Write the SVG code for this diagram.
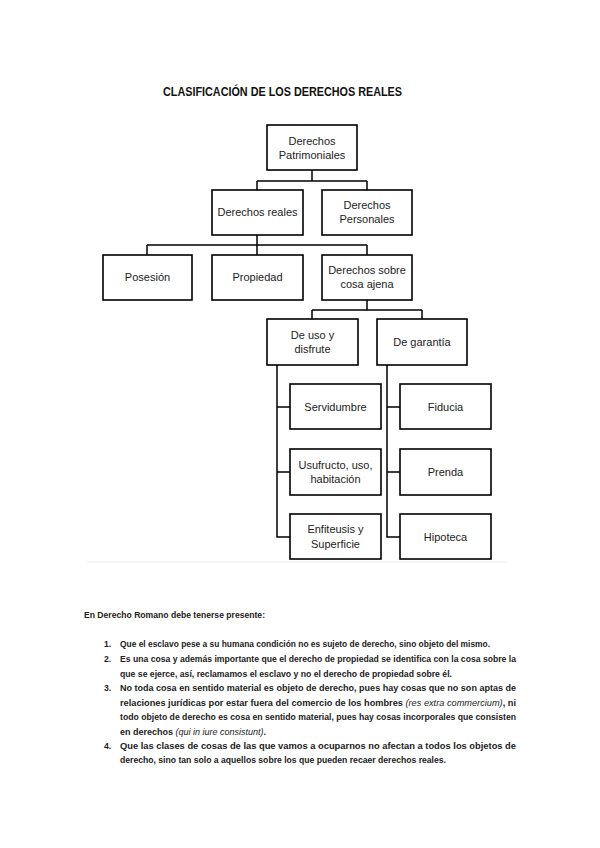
<svg xmlns="http://www.w3.org/2000/svg" width="600" height="848" viewBox="0 0 600 848">
<style>
.bg{fill:#ffffff}
.box{fill:#ffffff;stroke:#000;stroke-width:1.6}
.lbl{font-family:"Liberation Sans",Arial,sans-serif;font-size:11px;fill:#222;text-anchor:middle}
.conn{fill:none;stroke:#000;stroke-width:1.5}
.title{font-family:"Liberation Sans",Arial,sans-serif;font-size:12px;font-weight:bold;fill:#111}
.body{font-family:"Liberation Sans",Arial,sans-serif;font-size:8.6px;font-weight:bold;fill:#222}
.it{font-style:italic;font-weight:normal}
</style>
<rect class="bg" x="0" y="0" width="600" height="848"/>
<text class="title" x="163" y="96" textLength="239" lengthAdjust="spacingAndGlyphs">CLASIFICACIÓN DE LOS DERECHOS REALES</text>
<line x1="87" y1="562" x2="507" y2="562" stroke="#ececec" stroke-width="1"/>
<g id="connectors">
<path class="conn" d="M312 170V181M257 181H367M257 181V190M367 181V190"/>
<path class="conn" d="M257 235V255M147 245H367M147 245V255M367 245V255"/>
<path class="conn" d="M367 300V310M312 310H422M312 310V319M422 310V319"/>
<path class="conn" d="M277 365V537H290M277 407H290M277 472H290"/>
<path class="conn" d="M387 365V537H400M387 407H400M387 472H400"/>
</g>
<g id="patrimoniales"><rect class="box" x="267" y="125" width="90" height="45"/><text class="lbl" x="312" y="145">Derechos</text><text class="lbl" x="312" y="159">Patrimoniales</text></g>
<g id="reales"><rect class="box" x="212" y="190" width="91" height="45"/><text class="lbl" x="257.5" y="216">Derechos reales</text></g>
<g id="personales"><rect class="box" x="322" y="190" width="90" height="45"/><text class="lbl" x="367" y="209">Derechos</text><text class="lbl" x="367" y="223">Personales</text></g>
<g id="posesion"><rect class="box" x="103" y="255" width="89" height="45"/><text class="lbl" x="147.5" y="281">Posesión</text></g>
<g id="propiedad"><rect class="box" x="212" y="255" width="91" height="45"/><text class="lbl" x="257.5" y="281">Propiedad</text></g>
<g id="sobre"><rect class="box" x="322" y="255" width="90" height="45"/><text class="lbl" x="367" y="274">Derechos sobre</text><text class="lbl" x="367" y="288">cosa ajena</text></g>
<g id="uso"><rect class="box" x="267" y="319" width="91" height="46"/><text class="lbl" x="312.5" y="339">De uso y</text><text class="lbl" x="312.5" y="353">disfrute</text></g>
<g id="garantia"><rect class="box" x="377" y="319" width="90" height="46"/><text class="lbl" x="422" y="346">De garantía</text></g>
<g id="servidumbre"><rect class="box" x="290" y="384" width="91" height="45"/><text class="lbl" x="335.5" y="411">Servidumbre</text></g>
<g id="usufructo"><rect class="box" x="290" y="449" width="91" height="46"/><text class="lbl" x="335.5" y="469">Usufructo, uso,</text><text class="lbl" x="335.5" y="483">habitación</text></g>
<g id="enfiteusis"><rect class="box" x="290" y="514" width="91" height="45"/><text class="lbl" x="335.5" y="533">Enfiteusis  y</text><text class="lbl" x="335.5" y="548">Superficie</text></g>
<g id="fiducia"><rect class="box" x="400" y="384" width="91" height="45"/><text class="lbl" x="445.5" y="411">Fiducia</text></g>
<g id="prenda"><rect class="box" x="400" y="449" width="91" height="46"/><text class="lbl" x="445.5" y="476">Prenda</text></g>
<g id="hipoteca"><rect class="box" x="400" y="514" width="91" height="45"/><text class="lbl" x="445.5" y="541">Hipoteca</text></g>
<g id="texto">
<text class="body" x="84" y="618" textLength="181" lengthAdjust="spacingAndGlyphs">En Derecho Romano debe tenerse presente:</text>
<text class="body" x="104" y="647">1.</text>
<text class="body" x="120" y="647" textLength="370" lengthAdjust="spacingAndGlyphs">Que el esclavo pese a su humana condición no es sujeto de derecho, sino objeto del mismo.</text>
<text class="body" x="104" y="662">2.</text>
<text class="body" x="120" y="662" textLength="396" lengthAdjust="spacingAndGlyphs">Es una cosa y además importante que el derecho de propiedad se identifica con la cosa sobre la</text>
<text class="body" x="120" y="677" textLength="332" lengthAdjust="spacingAndGlyphs">que se ejerce, así, reclamamos el esclavo y no el derecho de propiedad sobre él.</text>
<text class="body" x="104" y="691">3.</text>
<text class="body" x="120" y="691" textLength="396" lengthAdjust="spacingAndGlyphs">No toda cosa en sentido material es objeto de derecho, pues hay cosas que no son aptas de</text>
<text class="body" x="120" y="706" textLength="396" lengthAdjust="spacingAndGlyphs">relaciones jurídicas por estar fuera del comercio de los hombres <tspan class="it">(res extra commercium)</tspan>, ni</text>
<text class="body" x="120" y="720" textLength="396" lengthAdjust="spacingAndGlyphs">todo objeto de derecho es cosa en sentido material, pues hay cosas incorporales que consisten</text>
<text class="body" x="120" y="735" textLength="146" lengthAdjust="spacingAndGlyphs">en derechos <tspan class="it">(qui in iure consistunt)</tspan>.</text>
<text class="body" x="104" y="749">4.</text>
<text class="body" x="120" y="749" textLength="396" lengthAdjust="spacingAndGlyphs">Que las clases de cosas de las que vamos a ocuparnos no afectan a todos los objetos de</text>
<text class="body" x="120" y="763" textLength="326" lengthAdjust="spacingAndGlyphs">derecho, sino tan solo a aquellos sobre los que pueden recaer derechos reales.</text>
</g>
</svg>
